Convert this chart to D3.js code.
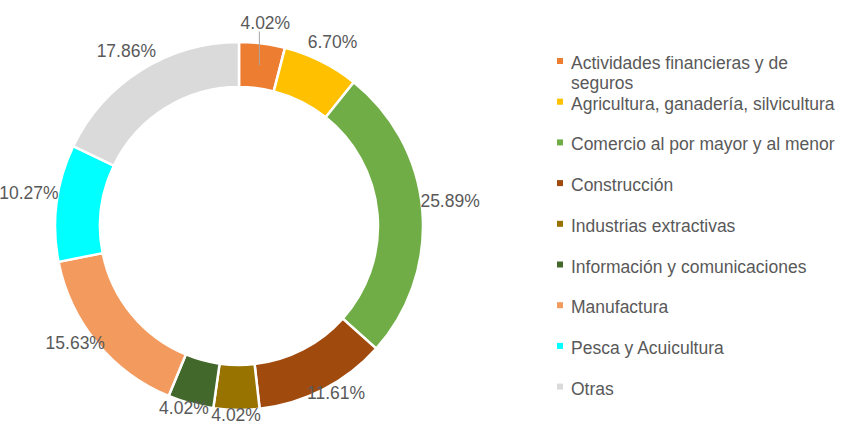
<!DOCTYPE html>
<html>
<head>
<meta charset="utf-8">
<script src="https://cdn.jsdelivr.net/npm/d3@7"></script>
<style>
  body { margin: 0; background: #fff; }
  text { font-family: "Liberation Sans", Arial, sans-serif; }
</style>
</head>
<body>
<div id="chart"></div>
<script>
// sectors, clockwise from 12 o'clock
var categories = ["Actividades financieras y de seguros", "Agricultura, ganadería, silvicultura",
  "Comercio al por mayor y al menor", "Construcción", "Industrias extractivas",
  "Información y comunicaciones", "Manufactura", "Pesca y Acuicultura", "Otras"]
var values = [4.02, 6.70, 25.89, 11.61, 4.02, 4.02, 15.63, 10.27, 17.86]
var colors = ["#ED7D31", "#FFC000", "#70AD47", "#A14A0E", "#997300", "#43682B", "#F39A5E", "#00FFFF", "#DADADA"]

var width = 842, height = 429
var cx = 239, cy = 226
var rOuter = 184, rInner = 139

var svg = d3.select("#chart")
  .append("svg")
    .attr("width", width)
    .attr("height", height)

var pie = d3.pie().sort(null).value(function(d) { return d; })
var arcs = pie(values)

var arc = d3.arc().innerRadius(rInner).outerRadius(rOuter)
var mid = d3.arc().innerRadius(162).outerRadius(162)

var g = svg.append("g").attr("transform", "translate(" + cx + "," + cy + ")")

// ring
g.selectAll("path")
  .data(arcs)
  .enter()
  .append("path")
    .attr("d", arc)
    .attr("fill", function(d, i) { return colors[i]; })
    .attr("stroke", "#fff")
    .attr("stroke-width", 2.5)

// percentage labels outside the ring
var fmt = function(v) { return v.toFixed(2) + "%"; }
var labelR = 197

var labels = g.selectAll(".lbl")
  .data(arcs)
  .enter()
  .append("text")
    .attr("class", "lbl")
    .attr("font-size", "17.5px")
    .attr("fill", "#595959")
    .attr("text-anchor", "middle")
    .text(function(d) { return fmt(d.data); })

labels.each(function(d) {
  var a = (d.startAngle + d.endAngle) / 2
  var w = this.getComputedTextLength()
  // label box centre, pushed out by part of its width at the sides
  var x = Math.sin(a) * (labelR + w / 4)
  var y = -Math.cos(a) * labelR - 8
  d.lx = x; d.ly = y
  d3.select(this).attr("x", x).attr("y", y + 6)
})

// leader line for the small first slice
var first = arcs[0]
var c = mid.centroid(first)
g.append("line")
  .attr("x1", first.lx - 6).attr("y1", first.ly + 9)
  .attr("x2", c[0]).attr("y2", c[1])
  .attr("stroke", "#A6A6A6")
  .attr("stroke-width", 1)

// legend
var legX = 557, legY = 69, legStep = 40.7, maxW = 270

var leg = svg.selectAll(".leg")
  .data(categories)
  .enter()
  .append("g")
    .attr("class", "leg")
    .attr("transform", function(d, i) { return "translate(" + legX + "," + (legY + i * legStep) + ")"; })

leg.append("rect")
  .attr("x", 0).attr("y", -11)
  .attr("width", 6).attr("height", 6)
  .attr("fill", function(d, i) { return colors[i]; })

leg.append("text")
  .attr("x", 14)
  .attr("font-size", "17.5px")
  .attr("fill", "#595959")
  .each(function(d) {
    // simple word wrap
    var t = d3.select(this)
    var words = d.split(" ")
    var line = []
    var ts = t.append("tspan").attr("x", 14).attr("dy", 0)
    words.forEach(function(wd) {
      line.push(wd)
      ts.text(line.join(" "))
      if (ts.node().getComputedTextLength() > maxW && line.length > 1) {
        line.pop()
        ts.text(line.join(" "))
        line = [wd]
        ts = t.append("tspan").attr("x", 14).attr("dy", 20).text(wd)
      }
    })
  })
</script>
</body>
</html>
